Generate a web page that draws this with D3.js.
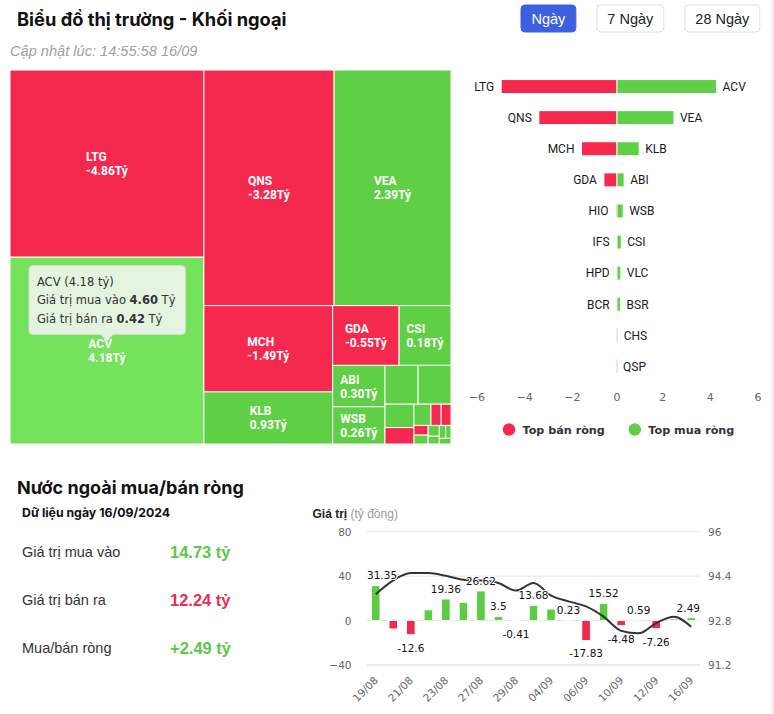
<!DOCTYPE html>
<html><head><meta charset="utf-8">
<script src="https://cdn.jsdelivr.net/npm/d3@7"></script>
<style>
html,body{margin:0;padding:0;background:#fff;}
svg{display:block;}
</style></head>
<body><svg id="c" width="774" height="714"></svg>
<script>
// ---------------- DATA ----------------
// Treemap: net value (Tỷ) decides colour, traded value (Tỷ) decides cell size
const tmNames = ["LTG","ACV","QNS","VEA","MCH","KLB","GDA","CSI","ABI","WSB","VLC","BSR","CHS","HIO","QSP","IFS","HPD","BCR","Khác 1","Khác 2","Khác 3","Khác 4","Khác 5","Khác 6"];
const tmNet   = [-4.86,4.18,-3.28,2.39,-1.49,0.93,-0.55,0.18,0.30,0.26,0.16,0.15,0.03,-0.06,0.00,-0.02,-0.01,-0.01,0.01,0.01,0.01,0.01,0.01,0.01];
const tmTotal = [5.03,5.02,4.25,3.82,1.54,0.93,0.55,0.43,0.30,0.27,0.178,0.177,0.094,0.066,0.050,0.030,0.029,0.019,0.0175,0.0167,0.012,0.0115,0.0095,0.0091];
const hoverName = "ACV", hoverBuy = 4.60, hoverSell = 0.42;

// Top net sell / top net buy
const sellNames  = ["LTG","QNS","MCH","GDA","HIO","IFS","HPD","BCR"];
const sellValues = [-4.86,-3.28,-1.49,-0.55,-0.06,-0.02,-0.01,-0.01];
const buyNames   = ["ACV","VEA","KLB","ABI","WSB","CSI","VLC","BSR","CHS","QSP"];
const buyValues  = [4.18,2.39,0.93,0.30,0.26,0.18,0.16,0.15,0.03,0.00];
const barTicks   = [-6,-4,-2,0,2,4,6];
const legendNames = ["Top bán ròng","Top mua ròng"];

// Daily foreign net buy/sell (tỷ đồng) and index line
const dates = ["19/08","20/08","21/08","22/08","23/08","26/08","27/08","28/08","29/08","30/08","04/09","05/09","06/09","09/09","10/09","11/09","12/09","13/09","16/09"];
const netValues = [31.35,-7.5,-12.6,9.6,19.36,16.2,26.62,3.5,-0.41,13.68,10.3,0.23,-17.83,15.52,-4.48,0.59,-7.26,1.5,2.49];
const indexValues = [93.75,94.25,94.51,94.51,94.41,94.27,94.24,94.15,93.88,94.15,93.70,93.49,93.31,92.94,92.43,92.34,92.71,92.94,92.58];
const leftTicks = [-40,0,40,80];
const rightTicks = [91.2,92.8,94.4,96];

// Summary
const statLabels = ["Giá trị mua vào","Giá trị bán ra","Mua/bán ròng"];
const statValues = [14.73,12.24,2.49];
const statKinds  = ["buy","sell","net"];

const buttons = ["Ngày","7 Ngày","28 Ngày"];
const activeButton = 0;

// ---------------- STYLE ----------------
const RED = "#f5284e", GREEN = "#5fcf45", GREEN_HI = "#74e25b";
const F_UI = "Inter, 'Noto Sans', sans-serif";
const F_AR = "'Liberation Sans', Arial, sans-serif";
const F_HC = "'DejaVu Sans', Verdana, sans-serif";
const F_RB = "Roboto, sans-serif";

const svg = d3.select("#c");
svg.append("rect").attr("x",770.5).attr("y",0).attr("width",3.5).attr("height",714).attr("fill","#f1f1f1");

// ---------------- HEADER ----------------
svg.append("text").attr("x",17).attr("y",26).text("Biểu đồ thị trường - Khối ngoại")
  .attr("font-family",F_UI).attr("font-weight",700).attr("font-size",18.3).attr("fill","#111");
svg.append("text").attr("x",10).attr("y",56).text("Cập nhật lúc: 14:55:58 16/09")
  .attr("font-family",F_AR).attr("font-style","italic").attr("font-size",14.6).attr("fill","#a0a0a0");

let bx = 521;
buttons.forEach((b,i)=>{
  const g = svg.append("g");
  const t = g.append("text").text(b).attr("font-family",F_AR).attr("font-size",14.5)
    .attr("fill", i===activeButton ? "#fff" : "#222").attr("text-anchor","middle");
  const w = t.node().getComputedTextLength() + 21;
  g.insert("rect","text").attr("x",bx).attr("y",5).attr("width",w).attr("height",27).attr("rx",4)
    .attr("fill", i===activeButton ? "#3c60e0" : "#fff")
    .attr("stroke", i===activeButton ? "#3c60e0" : "#dedede");
  t.attr("x",bx+w/2).attr("y",23.5);
  bx += w + 21;
});

// ---------------- TREEMAP ----------------
const tm = svg.append("g").attr("transform","translate(10,70)");
const root = d3.hierarchy({children: tmNames.map((n,i)=>({name:n, net:tmNet[i], total:tmTotal[i]}))})
  .sum(d=>d.total||0).sort((a,b)=>b.value-a.value);
d3.treemap().size([441,374]).tile(d3.treemapSquarify.ratio(1.3))(root);
const leaves = root.leaves();
tm.selectAll("rect.cell").data(leaves).join("rect").attr("class","cell")
  .attr("x",d=>d.x0).attr("y",d=>d.y0).attr("width",d=>d.x1-d.x0).attr("height",d=>d.y1-d.y0)
  .attr("fill",d=> d.data.name===hoverName ? GREEN_HI : (d.data.net<0 ? RED : GREEN))
  .attr("stroke","#fff").attr("stroke-width",1);
leaves.forEach(d=>{
  const w = d.x1-d.x0, h = d.y1-d.y0;
  const cx = (d.x0+d.x1)/2, cy = (d.y0+d.y1)/2;
  const g = tm.append("g").attr("font-family",F_RB).attr("font-weight",700).attr("font-size",12).attr("fill","#fff");
  const t1 = g.append("text").text(d.data.name);
  const t2 = g.append("text").text(d.data.net.toFixed(2)+"Tỷ");
  const mw = Math.max(t1.node().getComputedTextLength(), t2.node().getComputedTextLength());
  if (mw + 6 > w || h < 30) { g.remove(); return; }
  t1.attr("x",cx-mw/2).attr("y",cy-2.5);
  t2.attr("x",cx-mw/2).attr("y",cy+11.5);
});
// tooltip for hovered cell
const hv = leaves.find(d=>d.data.name===hoverName);
if (hv) {
  const tipX = (hv.x0+hv.x1)/2 + 10, tipY = (hv.y0+hv.y1)/2 + 70 - 9.5;
  const tg = svg.append("g").attr("font-family",F_HC).attr("font-size",11.5).attr("fill","#333");
  const box = tg.append("path");
  const l1 = tg.append("text").text(`${hoverName} (${(hoverBuy-hoverSell).toFixed(2)} tỷ)`);
  const l2 = tg.append("text"); l2.append("tspan").text("Giá trị mua vào "); l2.append("tspan").attr("font-weight",700).text(hoverBuy.toFixed(2)); l2.append("tspan").text(" Tỷ");
  const l3 = tg.append("text"); l3.append("tspan").text("Giá trị bán ra "); l3.append("tspan").attr("font-weight",700).text(hoverSell.toFixed(2)); l3.append("tspan").text(" Tỷ");
  const tw = Math.max(l1.node().getComputedTextLength(), l2.node().getComputedTextLength(), l3.node().getComputedTextLength());
  const bw = tw + 18, bh = 69;
  const bxl = tipX - 78, byb = tipY - 6.5, byt = byb - bh, r = 4;
  const p = d3.path();
  p.moveTo(bxl+r, byt); p.lineTo(bxl+bw-r, byt); p.quadraticCurveTo(bxl+bw, byt, bxl+bw, byt+r);
  p.lineTo(bxl+bw, byb-r); p.quadraticCurveTo(bxl+bw, byb, bxl+bw-r, byb);
  p.lineTo(tipX+6, byb); p.lineTo(tipX, tipY); p.lineTo(tipX-6, byb);
  p.lineTo(bxl+r, byb); p.quadraticCurveTo(bxl, byb, bxl, byb-r);
  p.lineTo(bxl, byt+r); p.quadraticCurveTo(bxl, byt, bxl+r, byt); p.closePath();
  box.attr("d",p.toString()).attr("fill","rgba(247,247,247,0.86)").attr("stroke","#d3dccf").attr("stroke-width",1);
  l1.attr("x",bxl+8).attr("y",byt+20);
  l2.attr("x",bxl+8).attr("y",byt+38.5);
  l3.attr("x",bxl+8).attr("y",byt+57);
}

// ---------------- TOP BUY / SELL BARS ----------------
const bc = svg.append("g");
const nRows = Math.max(sellNames.length, buyNames.length);
const xB = d3.scaleLinear().domain([-6,6]).range([474,760]);
const yB = d3.scaleBand().domain(d3.range(nRows)).range([71,382]).paddingInner(0.55).paddingOuter(0.275);
function drawBars(names, values, color, side){
  values.forEach((v,i)=>{
    const x0 = Math.min(xB(0), xB(v)), w = Math.abs(xB(v)-xB(0));
    const y = yB(i);
    if (w < 0.8) {
      bc.append("rect").attr("x",xB(0)-0.5).attr("y",y).attr("width",1.2).attr("height",yB.bandwidth()).attr("fill","#d9d9d9");
    } else {
      bc.append("rect").attr("x",x0).attr("y",y).attr("width",w).attr("height",yB.bandwidth())
        .attr("fill",color).attr("stroke","#fff").attr("stroke-width",1);
    }
    bc.append("text").text(names[i])
      .attr("x", side<0 ? xB(v)-7 : xB(v)+6).attr("y", y+yB.bandwidth()/2+4.3)
      .attr("text-anchor", side<0 ? "end" : "start")
      .attr("font-family",F_RB).attr("font-size",12).attr("fill","#1a1a1a");
  });
}
drawBars(sellNames, sellValues, RED, -1);
drawBars(buyNames, buyValues, GREEN, 1);
bc.selectAll("text.tick").data(barTicks).join("text").attr("class","tick")
  .attr("x",d=>xB(d) + (d<0 ? 3 : d>0 ? -2 : 0)).attr("y",401).attr("text-anchor","middle")
  .attr("font-family",F_HC).attr("font-size",11).attr("fill","#666")
  .text(d=>d3.format("")(d));
const legColors = [RED, GREEN];
let lx = 509;
legendNames.forEach((n,i)=>{
  bc.append("circle").attr("cx",lx).attr("cy",429.5).attr("r",6.2).attr("fill",legColors[i]);
  const t = bc.append("text").attr("x",lx+13.5).attr("y",434).text(n)
    .attr("font-family",F_HC).attr("font-weight",700).attr("font-size",11.2).attr("fill","#333");
  lx += 13.5 + t.node().getComputedTextLength() + 30;
});

// ---------------- SUMMARY ----------------
svg.append("text").attr("x",17).attr("y",493.5).text("Nước ngoài mua/bán ròng")
  .attr("font-family",F_UI).attr("font-weight",700).attr("font-size",18).attr("fill","#111");
svg.append("text").attr("x",22).attr("y",517).text("Dữ liệu ngày 16/09/2024")
  .attr("font-family",F_UI).attr("font-weight",700).attr("font-size",12.3).attr("fill","#111");
statLabels.forEach((l,i)=>{
  const y = 557 + i*47.8;
  svg.append("text").attr("x",22).attr("y",y).text(l)
    .attr("font-family",F_AR).attr("font-size",14.5).attr("fill","#333");
  const v = statValues[i];
  const txt = (statKinds[i]==="net" && v>0 ? "+" : "") + v.toFixed(2) + " tỷ";
  svg.append("text").attr("x",170).attr("y",y+1).text(txt)
    .attr("font-family",F_AR).attr("font-weight",700).attr("font-size",16.5)
    .attr("fill", statKinds[i]==="sell" ? "#e8304f" : "#5cc84a");
});

// ---------------- COMBO CHART ----------------
const cg = svg.append("g");
const plotL = 367, plotR = 700, plotT = 531.7, plotB = 665;
const xC = d3.scaleBand().domain(dates).range([plotL,plotR]).paddingInner(0.52).paddingOuter(0.26);
const yL = d3.scaleLinear().domain([-40,80]).range([plotB,plotT]);
const yR = d3.scaleLinear().domain([91.2,96]).range([plotB,plotT]);
const cx = d=>xC(d)+xC.bandwidth()/2;

const tt = cg.append("text").attr("x",312.5).attr("y",517.5).attr("font-family",F_AR).attr("font-size",12);
tt.append("tspan").attr("font-weight",700).attr("fill","#222").text("Giá trị");
tt.append("tspan").attr("fill","#9a9a9a").text(" (tỷ đồng)");

leftTicks.forEach(t=>{
  cg.append("line").attr("x1",plotL).attr("x2",plotR).attr("y1",yL(t)).attr("y2",yL(t))
    .attr("stroke", t===-40 ? "#ccd6eb" : "#e6e6e6").attr("stroke-width",1);
  cg.append("text").attr("x",351.5).attr("y",yL(t)+4).attr("text-anchor","end")
    .attr("font-family",F_HC).attr("font-size",10.5).attr("fill","#666").text(d3.format("")(t));
});
rightTicks.forEach(t=>{
  cg.append("text").attr("x",708).attr("y",yR(t)+4)
    .attr("font-family",F_HC).attr("font-size",10.5).attr("fill","#666").text(t);
});
dates.forEach((d,i)=>{
  if (i%2) return;
  cg.append("text").attr("transform",`translate(${cx(d)+3},681) rotate(-45)`).attr("text-anchor","end")
    .attr("font-family",F_HC).attr("font-size",10.5).attr("fill","#666").text(d);
});
cg.selectAll("rect.bar").data(netValues).join("rect").attr("class","bar")
  .attr("x",(v,i)=>xC(dates[i])).attr("width",xC.bandwidth())
  .attr("y",v=>yL(Math.max(0,v))).attr("height",v=>Math.abs(yL(v)-yL(0)))
  .attr("fill",v=>v<0 ? "#f0294e" : "#5dcc45").attr("stroke","#fff").attr("stroke-width",0.8);

const line = d3.line().x((v,i)=>cx(dates[i])).y(v=>yR(v)).curve(d3.curveMonotoneX);
cg.append("path").attr("d",line(indexValues)).attr("fill","none").attr("stroke","#333").attr("stroke-width",2);

// data labels with overlap hiding
const labs = [];
netValues.forEach((v,i)=>{
  const t = cg.append("text").text(String(v)).attr("text-anchor","middle")
    .attr("font-family",F_HC).attr("font-size",10.5).attr("fill","#111")
    .attr("stroke","#fff").attr("stroke-width",2).attr("paint-order","stroke").attr("stroke-linejoin","round");
  const w = t.node().getComputedTextLength();
  let x = cx(dates[i]);
  x = Math.max(x, plotL + w/2); x = Math.min(x, plotR - w/2);
  const y = v>=0 ? yL(v) - 6.3 : yL(v) + 17;
  t.attr("x",x).attr("y",y);
  labs.push({t, rank: Math.abs(yL(v)-yL(0)), x0:x-w/2-1, x1:x+w/2+1, y0:y-11, y1:y+2.5, vis:true});
});
labs.sort((a,b)=>b.rank-a.rank);
for (let i=0;i<labs.length;i++){
  for (let j=i+1;j<labs.length;j++){
    const a=labs[i], b=labs[j];
    if (!a.vis || !b.vis) continue;
    if (a.x0 < b.x1 && b.x0 < a.x1 && a.y0 < b.y1 && b.y0 < a.y1) b.vis = false;
  }
}
labs.forEach(l=>{ if(!l.vis) l.t.remove(); });
</script>
</body></html>
